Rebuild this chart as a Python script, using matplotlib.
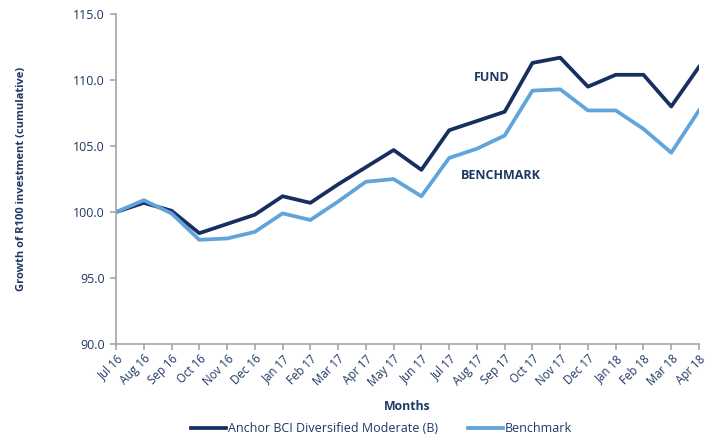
import matplotlib
matplotlib.use("Agg")
import matplotlib.pyplot as plt

months = ["Jul 16", "Aug 16", "Sep 16", "Oct 16", "Nov 16", "Dec 16",
          "Jan 17", "Feb 17", "Mar 17", "Apr 17", "May 17", "Jun 17",
          "Jul 17", "Aug 17", "Sep 17", "Oct 17", "Nov 17", "Dec 17",
          "Jan 18", "Feb 18", "Mar 18", "Apr 18"]
fund = [100.0, 100.7, 100.1, 98.4, 99.1, 99.8,
        101.2, 100.7, 102.1, 103.4, 104.7, 103.2,
        106.2, 106.9, 107.6, 111.3, 111.7, 109.5,
        110.4, 110.4, 108.0, 111.0]
benchmark = [100.0, 100.9, 99.9, 97.9, 98.0, 98.5,
             99.9, 99.4, 100.8, 102.3, 102.5, 101.2,
             104.1, 104.8, 105.8, 109.2, 109.3, 107.7,
             107.7, 106.3, 104.5, 107.7]
y_ticks = [90.0, 95.0, 100.0, 105.0, 110.0, 115.0]

NAVY = "#172f60"
LIGHT = "#5fa4db"
TEXT = "#1f3864"
AXIS = "#a6a6a6"

plt.rcParams['font.family'] = ['Open Sans', 'DejaVu Sans']

fig = plt.figure(figsize=(7.14, 4.4), dpi=100)
fig.subplots_adjust(left=0.1625, right=0.979, top=0.968, bottom=0.218)
ax = fig.add_subplot(111)

x = list(range(len(months)))
ax.plot(x, fund, color=NAVY, linewidth=2.7, label="Anchor BCI Diversified Moderate (B)")
ax.plot(x, benchmark, color=LIGHT, linewidth=2.7, label="Benchmark")

ax.set_xlim(0, len(months) - 1)
ax.set_ylim(90, 115)
ax.set_yticks(y_ticks)
ax.set_yticklabels([f"{v:.1f}" for v in y_ticks], fontsize=9, color=TEXT)
ax.set_xticks(x)
ax.set_xticklabels(months, rotation=45, ha="right", rotation_mode="anchor",
                   fontsize=8.3, color=TEXT)

for s in ["top", "right"]:
    ax.spines[s].set_visible(False)
for s in ["left", "bottom"]:
    ax.spines[s].set_color(AXIS)
    ax.spines[s].set_linewidth(1.2)
ax.tick_params(axis="both", colors=AXIS, length=4, width=1.2)
ax.tick_params(axis="x", labelcolor=TEXT, pad=2)
ax.tick_params(axis="y", labelcolor=TEXT, pad=4)

ax.set_ylabel("Growth of R100 investment (cumulative)", fontsize=8,
              fontweight="bold", color=TEXT, labelpad=33)
ax.set_xlabel("Months", fontsize=8.8, fontweight="bold", color=TEXT, labelpad=8)

ax.text(13.55, 110.2, "FUND", fontsize=9, fontweight="bold", color=TEXT,
        ha="center", va="center")
ax.text(13.85, 102.8, "BENCHMARK", fontsize=9, fontweight="bold", color=TEXT,
        ha="center", va="center")

fig.legend(loc="lower center", bbox_to_anchor=(0.535, -0.015), ncol=2,
           frameon=False, fontsize=9, labelcolor=TEXT, handlelength=2.8,
           handletextpad=0.15, columnspacing=2.4)

fig.savefig("out.png", dpi=100)
